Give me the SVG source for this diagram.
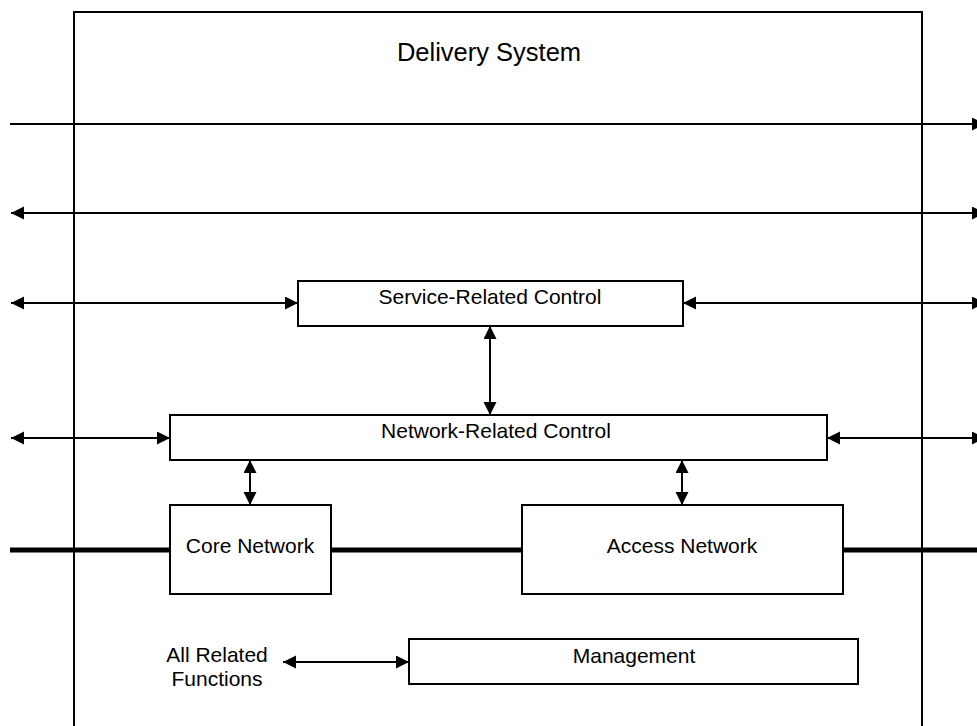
<svg xmlns="http://www.w3.org/2000/svg" width="977" height="726" viewBox="0 0 977 726">
  <style>
    .box { fill: #ffffff; stroke: #000000; stroke-width: 2; }
    .line { fill: none; stroke: #000000; stroke-width: 2; }
    .bus { fill: none; stroke: #000000; stroke-width: 5; }
    .label { font-family: "Liberation Sans", Arial, sans-serif; font-size: 21px; fill: #000000; text-anchor: middle; }
    .title { font-family: "Liberation Sans", Arial, sans-serif; font-size: 25.5px; fill: #000000; text-anchor: middle; }
  </style>
  <defs>
    <marker id="arrow" markerUnits="userSpaceOnUse" markerWidth="14" markerHeight="14" refX="13" refY="6.5" orient="auto-start-reverse">
      <path d="M0,0 L13,6.5 L0,13 z" fill="#000000"/>
    </marker>
  </defs>

  <rect width="977" height="726" fill="#ffffff"/>

  <!-- Delivery system frame (open at the bottom) -->
  <g id="delivery-system">
    <path class="line" d="M74,740 L74,12 L922,12 L922,740"/>
    <text class="title" x="489" y="61">Delivery System</text>
  </g>

  <!-- Connectors -->
  <g id="connectors">
    <line class="line" x1="10" y1="124" x2="985" y2="124" marker-end="url(#arrow)"/>
    <line class="line" x1="11" y1="213" x2="985" y2="213" marker-start="url(#arrow)" marker-end="url(#arrow)"/>
    <line class="line" x1="11" y1="303" x2="298" y2="303" marker-start="url(#arrow)" marker-end="url(#arrow)"/>
    <line class="line" x1="683" y1="303" x2="985" y2="303" marker-start="url(#arrow)" marker-end="url(#arrow)"/>
    <line class="line" x1="11" y1="438" x2="170" y2="438" marker-start="url(#arrow)" marker-end="url(#arrow)"/>
    <line class="line" x1="827" y1="438" x2="985" y2="438" marker-start="url(#arrow)" marker-end="url(#arrow)"/>
    <line class="line" x1="490" y1="326" x2="490" y2="415" marker-start="url(#arrow)" marker-end="url(#arrow)"/>
    <line class="line" x1="250" y1="460" x2="250" y2="505" marker-start="url(#arrow)" marker-end="url(#arrow)"/>
    <line class="line" x1="682" y1="460" x2="682" y2="505" marker-start="url(#arrow)" marker-end="url(#arrow)"/>
    <line class="line" x1="283" y1="662" x2="409" y2="662" marker-start="url(#arrow)" marker-end="url(#arrow)"/>
    <!-- transport bus -->
    <line class="bus" x1="10" y1="550" x2="170" y2="550"/>
    <line class="bus" x1="331" y1="550" x2="522" y2="550"/>
    <line class="bus" x1="843" y1="550" x2="977" y2="550"/>
  </g>

  <g id="service-related-control">
    <rect class="box" x="298" y="281" width="385" height="45"/>
    <text class="label" x="490" y="304">Service-Related Control</text>
  </g>

  <g id="network-related-control">
    <rect class="box" x="170" y="415" width="657" height="45"/>
    <text class="label" x="496" y="438">Network-Related Control</text>
  </g>

  <g id="core-network">
    <rect class="box" x="170" y="505" width="161" height="89"/>
    <text class="label" x="250" y="553">Core Network</text>
  </g>

  <g id="access-network">
    <rect class="box" x="522" y="505" width="321" height="89"/>
    <text class="label" x="682" y="553">Access Network</text>
  </g>

  <g id="management">
    <rect class="box" x="409" y="639" width="449" height="45"/>
    <text class="label" x="634" y="663">Management</text>
  </g>

  <g id="all-related-functions">
    <text class="label" x="217" y="662">All Related</text>
    <text class="label" x="217" y="686">Functions</text>
  </g>
</svg>
